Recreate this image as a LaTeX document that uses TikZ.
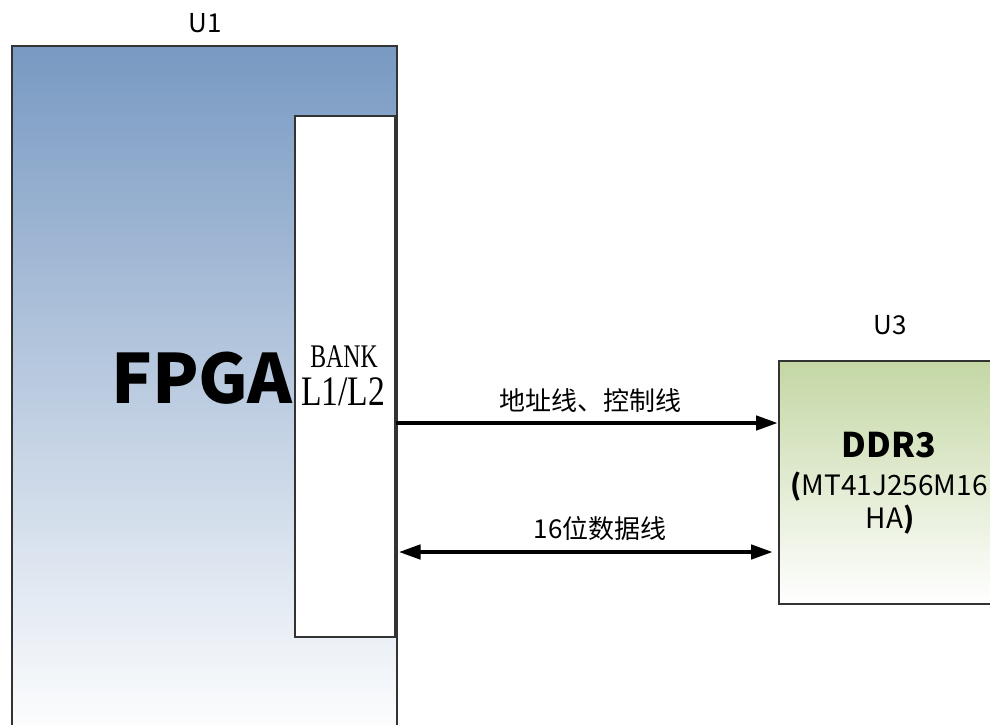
\documentclass[tikz,border=0pt]{standalone}
\usepackage{fontspec}
\setmainfont{Noto Sans CJK SC}
\newfontfamily\serifnum{Liberation Serif}
\usetikzlibrary{arrows.meta}
\definecolor{bordc}{HTML}{333333}
\definecolor{fpgatop}{HTML}{7899C2}
\definecolor{ddrtop}{HTML}{C4D7A4}
\tikzset{
  box/.style={draw=bordc, line width=1.5pt, rectangle, inner sep=0pt, anchor=north west},
  sig/.style={line width=4.5pt, -{Triangle[length=22pt,width=14pt]}},
  bisig/.style={line width=4.5pt, {Triangle[length=22pt,width=14pt]}-{Triangle[length=22pt,width=14pt]}},
  lbl/.style={inner sep=0pt, font=\fontsize{26}{30}\selectfont},
  cjk/.style={inner sep=0pt, font=\fontsize{26}{30}\selectfont},
}
\begin{document}
\begin{tikzpicture}[x=1pt,y=-1pt]
\useasboundingbox (0,0) rectangle (990,724);
\fill[white] (0,0) rectangle (990,724);
\clip (0,0) rectangle (990,724);
% U1
\node[box, top color=fpgatop, bottom color=white, minimum width=385pt, minimum height=695pt] (u1) at (11,45) {};
\node[lbl] (u1t) at (205,23) {U1};
% Bank
\node[box, fill=white, minimum width=100pt, minimum height=521pt] (bank) at (294,115) {};
\node[inner sep=0pt, anchor=base, font=\serifnum\fontsize{33}{36}\selectfont] (bankt) at (344,367) {\scalebox{0.72}[1]{BANK}};
\node[inner sep=0pt, anchor=base, font=\serifnum\fontsize{42}{44}\selectfont] (lt) at (343,405) {\scalebox{0.8}[1]{L1/L2}};
\node[inner sep=0pt, anchor=base east, font=\bfseries\fontsize{68}{70}\selectfont] (fpga) at (293,403) {FPGA};
% U3
\node[box, top color=ddrtop, bottom color=white, minimum width=240pt, minimum height=243pt] (u3) at (778,360) {};
\node[lbl] (u3t) at (890,325) {U3};
\node[inner sep=0pt, anchor=base, font=\bfseries\fontsize{34}{36}\selectfont] (ddr) at (889,457) {DDR3};
\node[inner sep=0pt, anchor=base, font=\fontsize{28}{30}\selectfont] (mt) at (889,495) {\textbf{(}MT41J256M16};
\node[inner sep=0pt, anchor=base, font=\fontsize{28}{30}\selectfont] (ha) at (890,528) {HA\textbf{)}};
% connectors
\draw[sig] (bank.east |- 0,423) -- (u3.west |- 0,423);
\node[cjk] (l1) at (590,401) {地址线、控制线};
\draw[bisig] ([xshift=3pt]bank.east |- 0,552) -- ([xshift=-5pt]u3.west |- 0,552);
\node[cjk] (l2) at (600,529) {16位数据线};
\end{tikzpicture}
\end{document}
